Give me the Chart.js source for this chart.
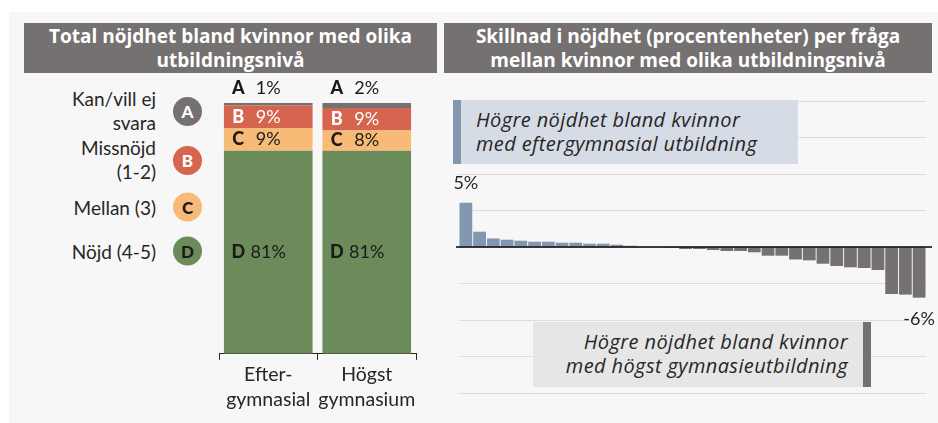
<!DOCTYPE html>
<html lang="sv">
<head>
<meta charset="utf-8">
<script src="https://cdn.jsdelivr.net/npm/chart.js@4.4.1/dist/chart.umd.min.js"></script>
<style>
  body { margin: 0; background: #fff; font-family: Lato, "Open Sans", sans-serif; color: #262626; }
  #panel { position: absolute; left: 9px; top: 12px; width: 929px; height: 411px; background: #f7f7f7; }
  .rubrik { position: absolute; top: 23px; height: 50px; background: #767171; color: #fff;
            font-family: "Open Sans", sans-serif; font-weight: 700; font-size: 19px; line-height: 24px;
            text-align: center; display: flex; align-items: center; justify-content: center; }
  #forklaring { position: absolute; left: 0; top: 0; }
  .post { position: absolute; left: 20px; width: 182px; display: flex; align-items: center;
          justify-content: flex-end; transform: translateY(-50%); }
  .post .txt { text-align: right; font-size: 19px; line-height: 24px; margin-right: 17px; }
  .post .rund { width: 29px; height: 29px; border-radius: 50%; display: flex; align-items: center;
                justify-content: center; font-weight: 900; font-size: 17px; flex: none; }
  canvas { position: absolute; }
  .ruta { position: absolute; font-family: "Open Sans", sans-serif; font-style: italic; font-size: 20px;
          letter-spacing: 0.4px; line-height: 24px; color: #262626; box-sizing: border-box; white-space: nowrap; }
  #rutaUpp { left: 453px; top: 100px; width: 345px; height: 64px; background: #d6dce5;
             border-left: 8px solid #8497b0; padding: 8px 0 0 15px; }
  #rutaNer { left: 533px; top: 322px; width: 338px; height: 65px; background: #e7e6e6;
             border-right: 8px solid #767171; padding: 8px 15px 0 0; text-align: right; }
</style>
</head>
<body>
<div id="panel"></div>
<div class="rubrik" style="left:24px;width:413px">Total nöjdhet bland kvinnor med olika<br>utbildningsnivå</div>
<div class="rubrik" style="left:444px;width:488px">Skillnad i nöjdhet (procentenheter) per fråga<br>mellan kvinnor med olika utbildningsnivå</div>
<div id="forklaring"></div>
<canvas id="nojdhet" width="240" height="343" style="left:200px;top:80px"></canvas>
<canvas id="skillnad" width="498" height="343" style="left:440px;top:80px"></canvas>
<div class="ruta" id="rutaUpp">Högre nöjdhet bland kvinnor<br>med eftergymnasial utbildning</div>
<div class="ruta" id="rutaNer">Högre nöjdhet bland kvinnor<br>med högst gymnasieutbildning</div>
<script>
// Svarsalternativ (A-D) och andelar per utbildningsnivå
const utbildning = [['Efter-', 'gymnasial'], ['Högst', 'gymnasium']];
const svarBokstav = ['A', 'B', 'C', 'D'];
const svarNamn = [['Kan/vill ej', 'svara'], ['Missnöjd', '(1-2)'], ['Mellan (3)'], ['Nöjd (4-5)']];
const andelA = [1, 2];
const andelB = [9, 9];
const andelC = [9, 8];
const andelD = [81, 81];

// Skillnad i procentenheter per fråga, sorterad
const skillnad = [4.85, 1.68, 0.94, 0.8, 0.69, 0.58, 0.58, 0.47, 0.47, 0.36, 0.36, 0.25, 0.14, 0, 0,
  -0.1, -0.22, -0.22, -0.33, -0.44, -0.44, -0.58, -0.95, -0.95, -1.37, -1.46, -1.83, -2.08, -2.23,
  -2.3, -2.52, -5.15, -5.22, -5.55];
const fragor = skillnad.map((_, i) => 'Fråga ' + (i + 1));

const farg = { A: '#767171', B: '#d6654f', C: '#f7bb77', D: '#6b8c5a' };
const textFarg = { A: '#fff', B: '#fff', C: '#1a1a1a', D: '#1a1a1a' };

// förklaring till vänster
const postY = [111, 160, 207, 251];
const forklaring = document.getElementById('forklaring');
svarBokstav.forEach((b, i) => {
  const el = document.createElement('div');
  el.className = 'post';
  el.style.top = postY[i] + 'px';
  el.innerHTML = '<div class="txt">' + svarNamn[i].join('<br>') + '</div>' +
    '<div class="rund" style="background:' + farg[b] + ';color:' + textFarg[b] + '">' + b + '</div>';
  forklaring.appendChild(el);
});

// etiketter i staplarna: bokstav + andel
const stapelEtiketter = {
  id: 'stapelEtiketter',
  afterDatasetsDraw(chart) {
    const ctx = chart.ctx;
    ctx.save();
    ctx.textBaseline = 'middle';
    chart.data.datasets.forEach((ds, i) => {
      const meta = chart.getDatasetMeta(i);
      meta.data.forEach((bar, j) => {
        const b = ds.bokstav;
        const y = b === 'A' ? bar.y - 15 : (bar.y + bar.base) / 2;
        ctx.fillStyle = b === 'A' ? '#1a1a1a' : textFarg[b];
        ctx.textAlign = 'center';
        ctx.font = '900 18px Lato';
        ctx.fillText(b, bar.x - 30, y);
        ctx.font = '18px Lato';
        ctx.fillText(ds.data[j] + '%', bar.x, y);
      });
    });
    ctx.restore();
  }
};

new Chart(document.getElementById('nojdhet'), {
  type: 'bar',
  data: {
    labels: utbildning,
    datasets: [
      { bokstav: 'D', data: andelD, backgroundColor: farg.D },
      { bokstav: 'C', data: andelC, backgroundColor: farg.C },
      { bokstav: 'B', data: andelB, backgroundColor: farg.B },
      { bokstav: 'A', data: andelA, backgroundColor: farg.A }
    ]
  },
  options: {
    responsive: false,
    animation: false,
    layout: { padding: { left: 19, right: 24, top: 23, bottom: 8 } },
    datasets: { bar: { barPercentage: 0.9, categoryPercentage: 1 } },
    plugins: { legend: { display: false }, tooltip: { enabled: false } },
    scales: {
      x: {
        stacked: true,
        grid: { drawOnChartArea: false, color: '#262626', tickLength: 6 },
        border: { color: '#262626', width: 1 },
        ticks: { color: '#262626', padding: 3, maxRotation: 0, minRotation: 0, autoSkip: false,
                 font: { family: 'Lato', size: 19.5, lineHeight: 1.26 } }
      },
      y: { stacked: true, display: false, min: 0, max: 100 }
    }
  },
  plugins: [stapelEtiketter]
});

// nollinje och värden på första och sista stapeln
const nollLinje = {
  id: 'nollLinje',
  afterDatasetsDraw(chart) {
    const { ctx, chartArea } = chart;
    const y0 = chart.scales.y.getPixelForValue(0);
    ctx.save();
    ctx.strokeStyle = '#000';
    ctx.lineWidth = 1.5;
    ctx.beginPath();
    ctx.moveTo(chartArea.left - 3, y0);
    ctx.lineTo(chartArea.right + 6, y0);
    ctx.stroke();

    const meta = chart.getDatasetMeta(0);
    const sista = skillnad.length - 1;
    ctx.fillStyle = '#262626';
    ctx.font = '18px Lato';
    ctx.textAlign = 'center';
    ctx.textBaseline = 'middle';
    [0, sista].forEach(i => {
      const bar = meta.data[i];
      const v = skillnad[i];
      const y = v >= 0 ? bar.y - 20 : bar.y + 22;
      ctx.fillText(Math.round(v) + '%', bar.x, y);
    });
    ctx.restore();
  }
};

new Chart(document.getElementById('skillnad'), {
  type: 'bar',
  data: {
    labels: fragor,
    datasets: [{
      data: skillnad,
      backgroundColor: skillnad.map(v => v >= 0 ? '#8497b0' : '#767171'),
      barPercentage: 0.93,
      categoryPercentage: 1
    }]
  },
  options: {
    responsive: false,
    animation: false,
    layout: { padding: { left: 19, right: 12, top: 21, bottom: 30 } },
    plugins: { legend: { display: false }, tooltip: { enabled: false } },
    scales: {
      x: { display: false },
      y: {
        min: -16, max: 16,
        ticks: { display: false, stepSize: 4 },
        grid: { color: '#dcdcdc', drawTicks: false },
        border: { display: false }
      }
    }
  },
  plugins: [nollLinje]
});
</script>
</body>
</html>
